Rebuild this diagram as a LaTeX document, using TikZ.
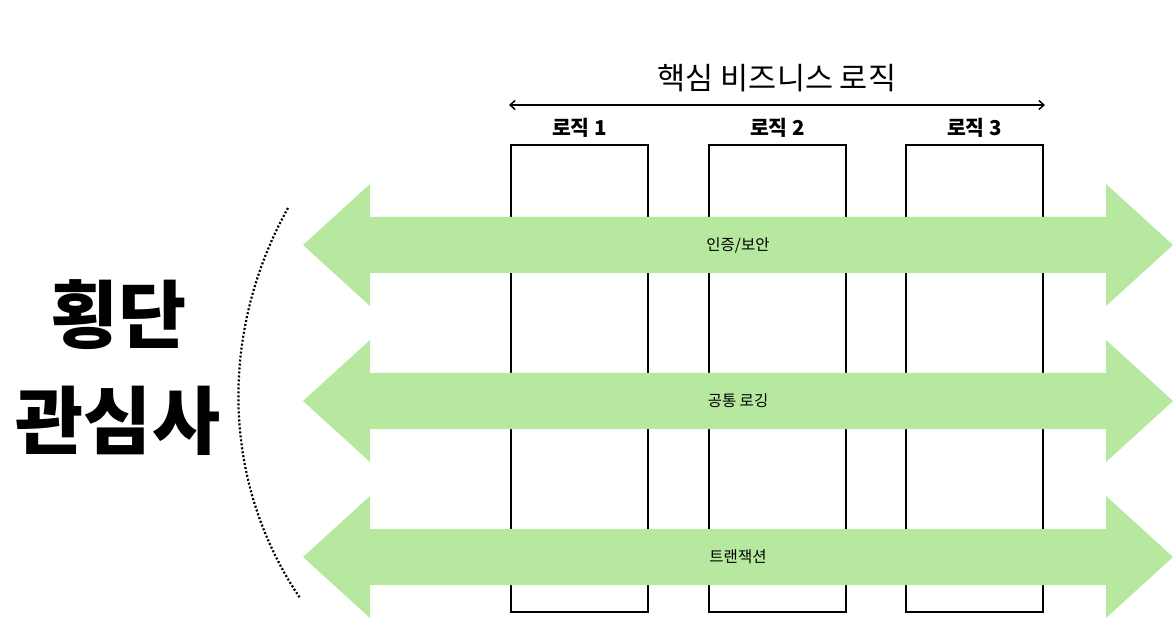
\documentclass[tikz,border=0pt]{standalone}
\usepackage{fontspec}
\newfontfamily\krfont{Noto Sans CJK KR}
\usetikzlibrary{arrows.meta}
\definecolor{crossgreen}{RGB}{183,232,160}
\tikzset{
  logicbox/.style={draw=black,line width=1.6pt},
  crossarrow/.style={fill=crossgreen,draw=none},
  logiclabel/.style={font=\krfont\bfseries\fontsize{20.5}{24}\selectfont,inner sep=0.75pt},
  crosslabel/.style={font=\krfont\fontsize{15.5}{18}\selectfont,inner sep=0.75pt},
  biglabel/.style={font=\krfont\bfseries\fontsize{74}{84}\selectfont,inner sep=0.75pt}
}
\begin{document}
\begin{tikzpicture}[x=1pt,y=1pt,yscale=-1,xscale=1]
\useasboundingbox (0,0) rectangle (1176,636);

%Rectangles for the core logics
\draw [logicbox] (511,145) rectangle (648,612);
\draw [logicbox] (709,145) rectangle (846,612);
\draw [logicbox] (906,145) rectangle (1043,612);

%Crosscutting arrows
\foreach \c in {245,401,557}
  \fill [crossarrow] (303,\c) -- (370,\c-61) -- (370,\c-28) -- (1106,\c-28) -- (1106,\c-61)
    -- (1173,\c) -- (1106,\c+61) -- (1106,\c+28) -- (370,\c+28) -- (370,\c+61) -- cycle ;

% Text Node
\node [crosslabel] (auth) at (738,245) {인증/보안};
% Text Node
\node [crosslabel] (logging) at (738,401) {공통 로깅};
% Text Node
\node [crosslabel] (trans) at (738,557) {트랜잭션};

% Text Node
\node [logiclabel] (logic1) at (579.5,128) {로직 1};
% Text Node
\node [logiclabel] (logic2) at (777.5,128) {로직 2};
% Text Node
\node [logiclabel] (logic3) at (974.5,128) {로직 3};

%Straight Lines
\coordinate (coreL) at (509,105);
\coordinate (coreR) at (1045,105);
\draw [line width=1.5pt,{Straight Barb[length=5pt,width=9pt]}-{Straight Barb[length=5pt,width=9pt]}] (coreL) -- (coreR) ;
% Text Node
\node [font=\krfont\fontsize{30.5}{36}\selectfont,inner sep=0.75pt] (core) at (777,78) {핵심 비즈니스 로직};

%Dotted arc
\coordinate (arcT) at (288,208);
\coordinate (arcB) at (300,598);
\draw [line width=2.2pt,dash pattern=on 2pt off 2pt] (arcT) .. controls (220,330) and (220,480) .. (arcB) ;

% Text Node
\node [biglabel] (cross1) at (119,315) {횡단};
% Text Node
\node [biglabel] (cross2) at (118,421) {관심사};
\end{tikzpicture}
\end{document}
